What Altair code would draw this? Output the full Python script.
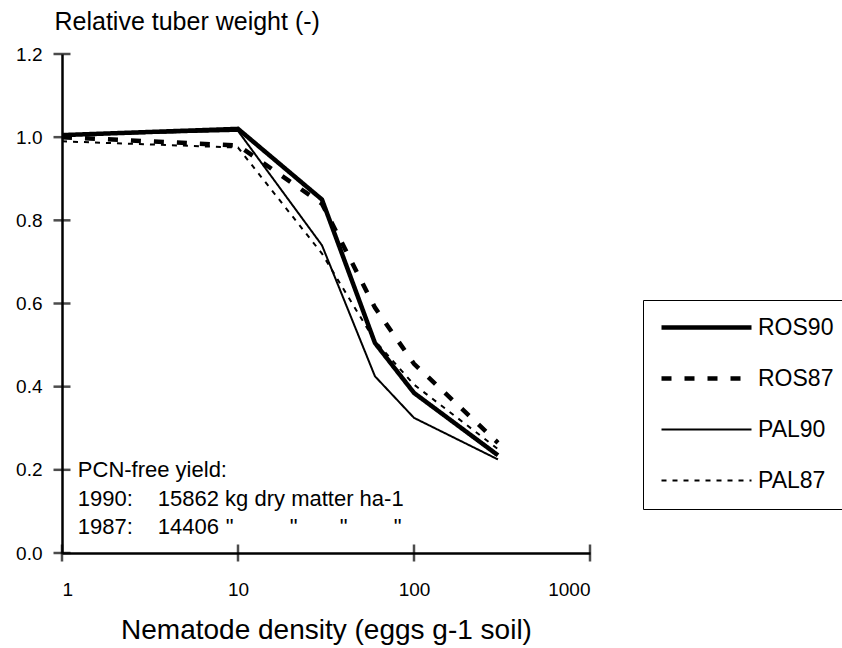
import altair as alt
import pandas as pd

# ---- data ----
density = [1, 10, 30, 60, 100, 300]
ros90 = [1.005, 1.02, 0.85, 0.505, 0.385, 0.235]
ros87 = [1.0, 0.98, 0.84, 0.59, 0.455, 0.265]
pal90 = [1.005, 1.015, 0.74, 0.425, 0.325, 0.225]
pal87 = [0.99, 0.975, 0.72, 0.51, 0.405, 0.25]
series_names = ["ROS90", "ROS87", "PAL90", "PAL87"]
x_ticks = [1, 10, 100, 1000]
y_ticks = [0.0, 0.2, 0.4, 0.6, 0.8, 1.0, 1.2]
note_lines = ["PCN-free yield:", "1990:", "15862 kg dry matter ha-1", "1987:", "14406",
              '"', '"', '"', '"']

rows = []
for name, vals in zip(series_names, [ros90, ros87, pal90, pal87]):
    for d, v in zip(density, vals):
        rows.append({"density": d, "weight": v, "series": name})
df = pd.DataFrame(rows)

FONT = "Liberation Sans"
W, H = 528, 499

xscale = alt.Scale(type="log", domain=[1, 1000], nice=False)
yscale = alt.Scale(domain=[0, 1.2], nice=False, zero=False)

x_axis = alt.Axis(values=x_ticks, format="d", ticks=False, domainWidth=2.5,
                  domainColor="black", labelPadding=27, labelFontSize=19,
                  labelFont=FONT, labelColor="black", grid=False,
                  title="Nematode density (eggs g-1 soil)", titleFont=FONT,
                  titleFontSize=28, titleFontWeight="normal", titleColor="black",
                  titlePadding=17)
y_axis = alt.Axis(values=y_ticks, format=".1f", ticks=False, domainWidth=2.5,
                  domainColor="black", labelPadding=20, labelFontSize=19,
                  labelFont=FONT, labelColor="black", grid=False,
                  title="Relative tuber weight (-)", titleFont=FONT,
                  titleFontSize=25, titleFontWeight="normal", titleColor="black",
                  titleAngle=0, titleAlign="left", titleBaseline="alphabetic",
                  titleX=-8, titleY=-25)

legend = alt.Legend(title=None, orient="none", legendX=581, legendY=246,
                    symbolType="M-5,0H5", symbolSize=324, symbolOffset=36,
                    symbolStrokeColor="black",
                    labelFont=FONT, labelFontSize=23, labelColor="black",
                    labelOffset=40, rowPadding=27, padding=16,
                    strokeColor="black", fillColor="white")

lines = alt.Chart(df).mark_line(color="black", strokeCap="butt", strokeJoin="miter").encode(
    x=alt.X("density:Q", scale=xscale, axis=x_axis),
    y=alt.Y("weight:Q", scale=yscale, axis=y_axis),
    strokeDash=alt.StrokeDash("series:N",
        scale=alt.Scale(domain=series_names, range=[[1, 0], [10, 13], [1, 0], [5, 6]]),
        legend=legend),
    strokeWidth=alt.StrokeWidth("series:N",
        scale=alt.Scale(type="ordinal", domain=series_names, range=[4.5, 4.5, 2, 2]),
        legend=legend),
    detail="series:N",
)

ytick_df = pd.DataFrame({"density": [1] * len(y_ticks), "weight": y_ticks})
yticks = alt.Chart(ytick_df).mark_tick(color="black", size=17, thickness=2.5,
                                       orient="horizontal").encode(
    y=alt.Y("weight:Q", scale=yscale, axis=y_axis),
    x=alt.X("density:Q", scale=xscale, axis=x_axis),
)
xtick_df = pd.DataFrame({"density": x_ticks, "weight": [0.0] * len(x_ticks)})
xticks = alt.Chart(xtick_df).mark_tick(color="black", size=17, thickness=2.5,
                                       orient="vertical").encode(
    x=alt.X("density:Q", scale=xscale, axis=x_axis),
    y=alt.Y("weight:Q", scale=yscale, axis=y_axis),
)

note_dx = [0, 0, 80, 0, 80, 148, 212, 262, 316]
note_dy = [0, 29, 29, 57, 57, 57, 57, 57, 57]
note_layers = []
for t, dx, dy in zip(note_lines, note_dx, note_dy):
    sub = pd.DataFrame({"density": [1.23], "weight": [0.2], "text": [t]})
    note_layers.append(
        alt.Chart(sub).mark_text(align="left", baseline="middle", font=FONT, fontSize=22,
                                 color="black", dx=dx, dy=dy).encode(
            x=alt.X("density:Q", scale=xscale, axis=x_axis),
            y=alt.Y("weight:Q", scale=yscale, axis=y_axis),
            text="text:N",
        )
    )

chart = alt.layer(lines, yticks, xticks, *note_layers).properties(
    width=W, height=H,
    padding={"left": 62, "top": 54, "right": 842 - 62 - W, "bottom": 648 - 54 - H},
    autosize=alt.AutoSizeParams(type="none"),
    background="white",
).configure_view(stroke=None)

chart.save("out.html", embed_options={"renderer": "svg", "actions": False})
